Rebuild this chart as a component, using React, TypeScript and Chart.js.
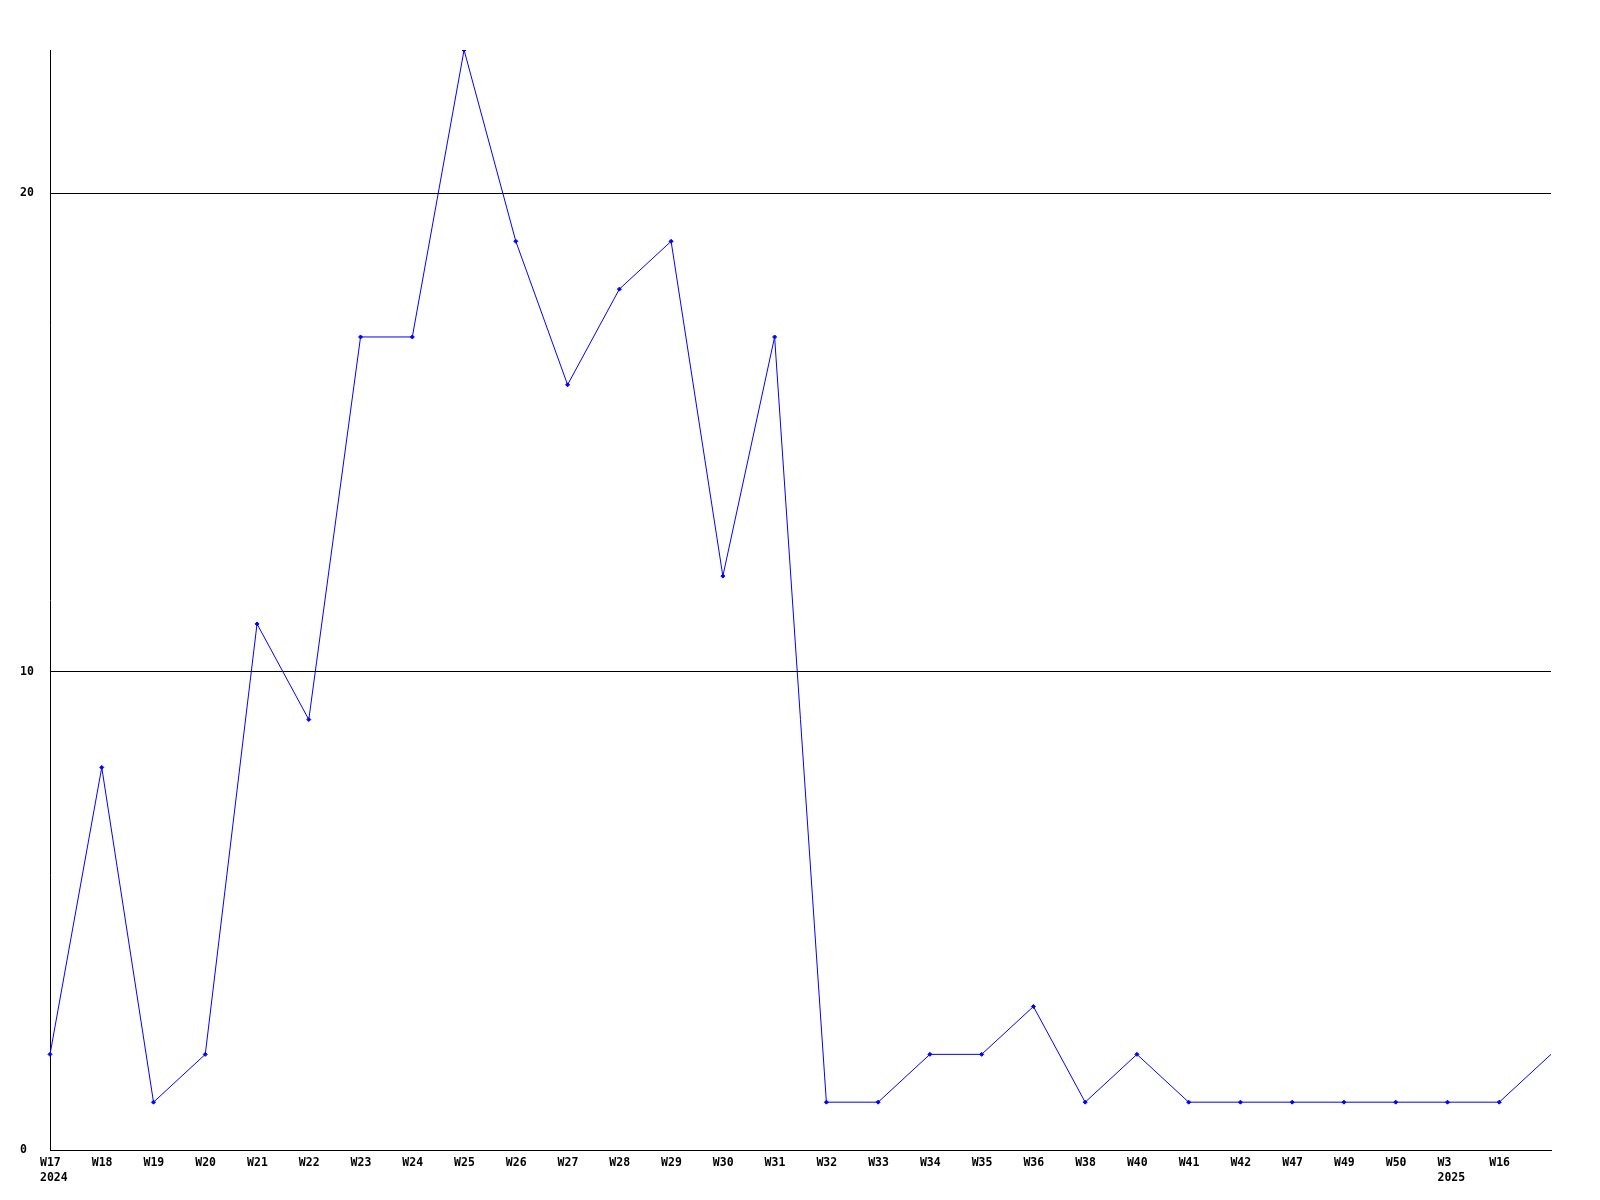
import React, { useEffect, useRef } from "react";
import { Chart, registerables } from "chart.js";

Chart.register(...registerables);

const weekLabels: (string | string[])[] = [
  ["W17", "2024"], "W18", "W19", "W20", "W21", "W22", "W23", "W24", "W25", "W26",
  "W27", "W28", "W29", "W30", "W31", "W32", "W33", "W34", "W35", "W36",
  "W38", "W40", "W41", "W42", "W47", "W49", "W50", ["W3", "2025"], "W16", "",
];

const counts: number[] = [
  2, 8, 1, 2, 11, 9, 17, 17, 23, 19,
  16, 18, 19, 12, 17, 1, 1, 2, 2, 3,
  1, 2, 1, 1, 1, 1, 1, 1, 1, 2,
];

const yMax = 23;
const yStep = 10;

export default function App() {
  const ref = useRef<HTMLCanvasElement | null>(null);
  useEffect(() => {
    if (!ref.current) return;
    const font = { family: "'DejaVu Sans Mono', monospace", size: 11.5, weight: "bold" as const, lineHeight: 1.3 };
    const radii = counts.map((_, i) => (i === counts.length - 1 ? 0 : 2));
    const chart = new Chart(ref.current, {
      type: "line",
      data: {
        labels: weekLabels,
        datasets: [
          {
            data: counts,
            borderColor: "#0000ff",
            backgroundColor: "#0000ff",
            borderWidth: 1,
            pointStyle: "rectRot",
            pointRadius: radii,
            pointBorderWidth: 1,
            tension: 0,
            fill: false,
          },
        ],
      },
      options: {
        animation: false,
        responsive: false,
        maintainAspectRatio: false,
        layout: { padding: { top: 50, right: 49, left: 20, bottom: 0 } },
        plugins: { legend: { display: false }, tooltip: { enabled: false } },
        scales: {
          x: {
            type: "category",
            offset: false,
            grid: { display: false, drawTicks: false },
            border: { display: true, color: "#000000", width: 1 },
            ticks: {
              color: "#000000",
              font,
              autoSkip: false,
              maxRotation: 0,
              minRotation: 0,
              align: "start",
              labelOffset: -10,
              padding: 6,
            },
            afterFit: (s: any) => {
              s.height = 50;
            },
          },
          y: {
            min: 0,
            max: yMax,
            grid: { color: "#000000", lineWidth: 1, drawTicks: false },
            border: { display: true, color: "#000000", width: 1 },
            ticks: {
              stepSize: yStep,
              includeBounds: false,
              color: "#000000",
              font,
              padding: 10,
              crossAlign: "far",
            },
            afterFit: (s: any) => {
              s.width = 30;
            },
          },
        },
      },
    });
    return () => chart.destroy();
  }, []);
  return (
    <div style={{ position: "absolute", left: 0, top: 0, width: 1600, height: 1200, background: "#fff" }}>
      <canvas ref={ref} width={1600} height={1200} style={{ width: 1600, height: 1200 }} />
    </div>
  );
}
